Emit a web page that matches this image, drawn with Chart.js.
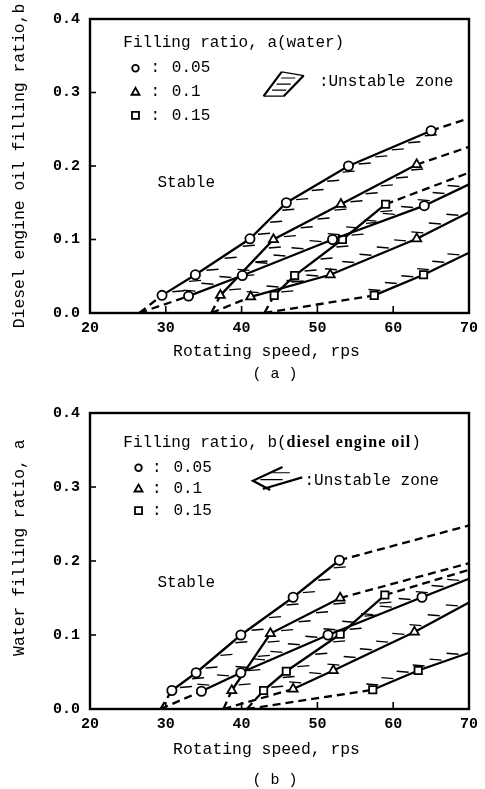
<!DOCTYPE html>
<html><head><meta charset="utf-8">
<script src="https://cdn.jsdelivr.net/npm/chart.js@4"></script>
<style>
html,body{margin:0;padding:0;background:#fff;}
#wa{position:absolute;left:0;top:0;width:485px;height:395px;}
#wb{position:absolute;left:0;top:394px;width:485px;height:395px;}
</style></head><body>
<div id="wa"><canvas id="ca"></canvas></div>
<div id="wb"><canvas id="cb"></canvas></div>
<script>
// ---------------- tick labels ----------------
const xTickLabels = ['20', '30', '40', '50', '60', '70'];
const yTickLabels = ['0.0', '0.1', '0.2', '0.3', '0.4'];
const legendValues = ['0.05', '0.1', '0.15'];

// ---------------- chart (a): x = rotating speed (rps), y = oil filling ratio b ----------------
const aCircUpX = [26.5, 29.5, 33.9, 41.1, 45.9, 54.1, 65.0, 70];
const aCircUpY = [0, 0.024, 0.052, 0.101, 0.150, 0.200, 0.248, 0.265];
const aCircLoX = [26.5, 33.0, 40.1, 52.0, 64.1, 70];
const aCircLoY = [0, 0.023, 0.051, 0.100, 0.146, 0.175];
const aTriUpX = [36.0, 37.2, 44.2, 53.1, 63.1, 70];
const aTriUpY = [0, 0.024, 0.100, 0.148, 0.202, 0.226];
const aTriLoX = [36.0, 41.2, 51.7, 63.1, 70];
const aTriLoY = [0, 0.022, 0.052, 0.101, 0.137];
const aSqUpX = [43.0, 44.3, 47.0, 53.3, 59.0, 70];
const aSqUpY = [0, 0.024, 0.051, 0.100, 0.148, 0.191];
const aSqLoX = [43.0, 57.5, 64.0, 70];
const aSqLoY = [0, 0.024, 0.052, 0.082];

// ---------------- chart (b): x = rotating speed (rps), y = water filling ratio a ----------------
const bCircUpX = [29.3, 30.8, 34.0, 39.9, 46.8, 52.9, 70];
const bCircUpY = [0, 0.025, 0.049, 0.100, 0.151, 0.201, 0.248];
const bCircLoX = [29.3, 34.7, 39.9, 51.4, 63.8, 70];
const bCircLoY = [0, 0.024, 0.049, 0.100, 0.151, 0.176];
const bTriUpX = [37.6, 38.7, 43.8, 53.0, 70];
const bTriUpY = [0, 0.025, 0.102, 0.150, 0.197];
const bTriLoX = [37.6, 46.8, 52.1, 62.8, 70];
const bTriLoY = [0, 0.027, 0.052, 0.104, 0.144];
const bSqUpX = [40.7, 42.9, 45.9, 53.0, 58.9, 70];
const bSqUpY = [0, 0.025, 0.051, 0.101, 0.154, 0.188];
const bSqLoX = [40.7, 57.3, 63.3, 70];
const bSqLoY = [0, 0.026, 0.052, 0.076];

// ---------------- styling helpers ----------------
const MONO = '"Liberation Mono", "DejaVu Sans Mono", monospace';
const SERIF = '"Liberation Serif", "DejaVu Serif", serif';
const HATCH_STEP = 19;

function boundary(xs, ys, style, hatchSide, dashed) {
  return {
    data: xs.map((x, i) => ({x: x, y: ys[i]})),
    showLine: true,
    borderColor: '#000',
    borderWidth: 2.3,
    backgroundColor: '#fff',
    pointStyle: style,
    pointBorderColor: '#000',
    pointBackgroundColor: '#fff',
    pointBorderWidth: 1.8,
    pointRadius: c => (c.raw && (c.raw.y === 0 || c.raw.x === 70)) ? 0 : (style === 'circle' ? 4.6 : 5.2),
    pointHoverRadius: 0,
    hatch: hatchSide,
    dashed: dashed,
    segment: { borderDash: c => dashed.includes(c.p0DataIndex) ? [8, 5] : undefined },
    tension: 0,
    clip: false
  };
}

const hatchPlugin = {
  id: 'hatch',
  beforeDatasetsDraw(chart) {
    const ctx = chart.ctx;
    ctx.save();
    ctx.strokeStyle = '#000';
    ctx.lineWidth = 1.4;
    chart.data.datasets.forEach((ds, di) => {
      if (!ds.hatch) return;
      const pts = chart.getDatasetMeta(di).data;
      for (let i = 0; i < pts.length - 1; i++) {
        if (ds.dashed.includes(i)) continue;
        const p0 = pts[i], p1 = pts[i + 1];
        const dx = p1.x - p0.x, dy = p1.y - p0.y, L = Math.hypot(dx, dy);
        const n = Math.max(1, Math.round(L / HATCH_STEP));
        for (let k = 0; k < n; k++) {
          const t = (k + 0.5) / n;
          const px = p0.x + dx * t, py = p0.y + dy * t + ds.hatch * 1.5;
          ctx.beginPath();
          ctx.moveTo(px + ds.hatch * 2, py);
          ctx.lineTo(px + ds.hatch * 14, py - 1);
          ctx.stroke();
        }
      }
    });
    ctx.restore();
  }
};

const framePlugin = {
  id: 'frame',
  afterDraw(chart) {
    const {ctx, chartArea: a, scales: {x, y}} = chart;
    ctx.save();
    ctx.strokeStyle = '#000';
    ctx.lineWidth = 1.6;
    x.ticks.forEach(t => {
      const px = x.getPixelForValue(t.value);
      ctx.beginPath(); ctx.moveTo(px, a.bottom); ctx.lineTo(px, a.bottom - 7); ctx.stroke();
    });
    y.ticks.forEach(t => {
      const py = y.getPixelForValue(t.value);
      ctx.beginPath(); ctx.moveTo(a.left, py); ctx.lineTo(a.left + 6, py); ctx.stroke();
    });
    ctx.lineWidth = 2.4;
    ctx.strokeRect(a.left, a.top, a.right - a.left, a.bottom - a.top);
    ctx.restore();
  }
};

function drawMarker(ctx, style, x, y) {
  ctx.save();
  ctx.lineWidth = 1.8; ctx.strokeStyle = '#000'; ctx.fillStyle = '#fff';
  ctx.beginPath();
  if (style === 'circle') ctx.arc(x, y, 3.3, 0, Math.PI * 2);
  else if (style === 'triangle') { ctx.moveTo(x, y - 4); ctx.lineTo(x + 4, y + 3); ctx.lineTo(x - 4, y + 3); ctx.closePath(); }
  else ctx.rect(x - 3.5, y - 3.5, 7, 7);
  ctx.fill(); ctx.stroke();
  ctx.restore();
}

function notesPlugin(cfg) {
  return {
    id: 'notes',
    afterDraw(chart) {
      const {ctx, scales: {x, y}} = chart;
      const X = v => x.getPixelForValue(v), Y = v => y.getPixelForValue(v);
      ctx.save();
      ctx.fillStyle = '#000';
      ctx.textBaseline = 'middle';
      // legend title (possibly in several font segments)
      let tx = X(cfg.legendX);
      const ty = Y(cfg.legendTitleY);
      cfg.legendTitle.forEach(seg => {
        ctx.font = seg[1];
        ctx.letterSpacing = seg[2] || '0px';
        ctx.textAlign = 'left';
        ctx.fillText(seg[0], tx, ty);
        tx += ctx.measureText(seg[0]).width;
      });
      ctx.letterSpacing = '0px';
      // legend rows
      ctx.font = '16px ' + MONO;
      ['circle', 'triangle', 'rect'].forEach((st, i) => {
        const ry = Y(cfg.rowY[i]);
        drawMarker(ctx, st, X(cfg.markX), ry);
        ctx.fillStyle = '#000';
        ctx.textAlign = 'center';
        ctx.fillText(':', X(cfg.colonX), ry);
        ctx.textAlign = 'left';
        ctx.fillText(legendValues[i], X(cfg.valX), ry);
      });
      // unstable symbol
      const x0 = X(cfg.sym[0]), x1 = X(cfg.sym[1]), y0 = Y(cfg.sym[2]), y1 = Y(cfg.sym[3]);
      cfg.drawSym(ctx, x0, y0, x1, y1);
      ctx.fillStyle = '#000';
      ctx.font = '16px ' + MONO;
      ctx.textAlign = 'left';
      ctx.fillText(':Unstable zone', X(cfg.unstX), Y(cfg.unstY));
      ctx.fillText('Stable', X(cfg.stableX), Y(cfg.stableY));
      // axis titles and caption
      ctx.font = '16.4px ' + MONO;
      ctx.textAlign = 'center';
      ctx.fillText('Rotating speed, rps', cfg.xTitlePos[0], cfg.xTitlePos[1]);
      ctx.font = '15px ' + MONO;
      ctx.fillText(cfg.caption, cfg.capPos[0], cfg.capPos[1]);
      ctx.save();
      ctx.translate(cfg.yTitleX, Y(cfg.yTitleMid));
      ctx.rotate(-Math.PI / 2);
      ctx.font = '16.4px ' + MONO;
      ctx.textAlign = 'center';
      ctx.fillText(cfg.yTitle, 0, 0);
      ctx.restore();
      ctx.restore();
    }
  };
}

function symA(ctx, x0, y0, x1, y1) {
  const w = x1 - x0, h = y1 - y0;
  ctx.save();
  ctx.strokeStyle = '#000';
  ctx.lineWidth = 2.2;
  ctx.beginPath();
  ctx.moveTo(x0, y1); ctx.lineTo(x0 + w * 0.45, y0);
  ctx.moveTo(x1, y0 + h * 0.15); ctx.lineTo(x0 + w * 0.5, y1);
  ctx.stroke();
  ctx.lineWidth = 1.2;
  ctx.beginPath();
  ctx.moveTo(x0 + w * 0.45, y0); ctx.lineTo(x1, y0 + h * 0.15);
  ctx.moveTo(x0, y1); ctx.lineTo(x0 + w * 0.5, y1);
  for (let k = 1; k <= 3; k++) {
    const yy = y0 + h * k / 4;
    const xl = x0 + w * 0.45 * (1 - k / 4) + 4;
    ctx.moveTo(xl, yy); ctx.lineTo(xl + w * 0.35, yy);
  }
  ctx.stroke();
  ctx.restore();
}

function symB(ctx, x0, y0, x1, y1) {
  const w = x1 - x0, h = y1 - y0;
  ctx.save();
  ctx.strokeStyle = '#000';
  ctx.lineWidth = 2.2;
  ctx.beginPath();
  ctx.moveTo(x0 + w * 0.6, y0); ctx.lineTo(x0, y0 + h * 0.6); ctx.lineTo(x0 + w * 0.35, y1);
  ctx.moveTo(x0 + w * 0.2, y1 - 1); ctx.lineTo(x1, y0 + h * 0.45);
  ctx.stroke();
  ctx.lineWidth = 1.2;
  ctx.beginPath();
  ctx.moveTo(x0 + w * 0.4, y0 + h * 0.25); ctx.lineTo(x0 + w * 0.75, y0 + h * 0.25);
  ctx.moveTo(x0 + w * 0.15, y0 + h * 0.55); ctx.lineTo(x0 + w * 0.6, y0 + h * 0.55);
  ctx.stroke();
  ctx.restore();
}

function makeChart(id, sets, notes, xAxisH) {
  return new Chart(document.getElementById(id), {
    type: 'scatter',
    data: { datasets: sets },
    options: {
      responsive: true,
      maintainAspectRatio: false,
      devicePixelRatio: 1,
      animation: false,
      events: [],
      layout: { padding: { top: 13, right: 16, left: 0, bottom: 0 } },
      plugins: { legend: { display: false }, tooltip: { enabled: false }, title: { display: false } },
      scales: {
        x: {
          type: 'linear', min: 20, max: 70,
          ticks: { stepSize: 10, padding: 6, color: '#000', font: { family: MONO, size: 15, weight: 'bold' },
                   callback: (v, i) => xTickLabels[i] },
          grid: { display: false, drawTicks: false },
          border: { display: false },
          afterFit: s => { s.height = xAxisH; }
        },
        y: {
          type: 'linear', min: 0, max: 0.4,
          ticks: { stepSize: 0.1, padding: 10, color: '#000', font: { family: MONO, size: 15, weight: 'bold' },
                   callback: (v, i) => yTickLabels[i] },
          grid: { display: false, drawTicks: false },
          border: { display: false },
          afterFit: s => { s.width = 90; }
        }
      }
    },
    plugins: [hatchPlugin, framePlugin, notesPlugin(notes)]
  });
}

makeChart('ca', [
  boundary(aCircUpX, aCircUpY, 'circle', 1, [0, 6]),
  boundary(aCircLoX, aCircLoY, 'circle', -1, [0]),
  boundary(aTriUpX, aTriUpY, 'triangle', 1, [0, 4]),
  boundary(aTriLoX, aTriLoY, 'triangle', -1, [0]),
  boundary(aSqUpX, aSqUpY, 'rect', 1, [0, 4]),
  boundary(aSqLoX, aSqLoY, 'rect', -1, [0])
], {
  legendX: 24.4, legendTitleY: 0.368,
  legendTitle: [['Filling ratio, a(water)', '16px ' + MONO]],
  markX: 26.0, colonX: 28.6, valX: 30.8, rowY: [0.333, 0.301, 0.269],
  sym: [42.9, 48.2, 0.328, 0.295], drawSym: symA,
  unstX: 50.2, unstY: 0.315,
  stableX: 28.9, stableY: 0.177,
  xTitlePos: [266.5, 352], caption: '( a )', capPos: [275, 374],
  yTitle: 'Diesel engine oil filling ratio,b', yTitleX: 20, yTitleMid: 0.2
}, 82);

makeChart('cb', [
  boundary(bCircUpX, bCircUpY, 'circle', 1, [0, 5]),
  boundary(bCircLoX, bCircLoY, 'circle', -1, [0]),
  boundary(bTriUpX, bTriUpY, 'triangle', 1, [0, 3]),
  boundary(bTriLoX, bTriLoY, 'triangle', -1, [0]),
  boundary(bSqUpX, bSqUpY, 'rect', 1, [0, 4]),
  boundary(bSqLoX, bSqLoY, 'rect', -1, [0])
], {
  legendX: 24.4, legendTitleY: 0.360,
  legendTitle: [['Filling ratio, b(', '16px ' + MONO], ['diesel engine oil', 'bold 16px ' + SERIF, '1px'], [')', '16px ' + MONO]],
  markX: 26.4, colonX: 28.8, valX: 31.0, rowY: [0.326, 0.298, 0.268],
  sym: [41.5, 48.0, 0.327, 0.296], drawSym: symB,
  unstX: 48.3, unstY: 0.308,
  stableX: 28.9, stableY: 0.171,
  xTitlePos: [266.5, 356], caption: '( b )', capPos: [275, 386],
  yTitle: 'Water filling ratio, a', yTitleX: 20, yTitleMid: 0.218
}, 80);
</script>
</body></html>
